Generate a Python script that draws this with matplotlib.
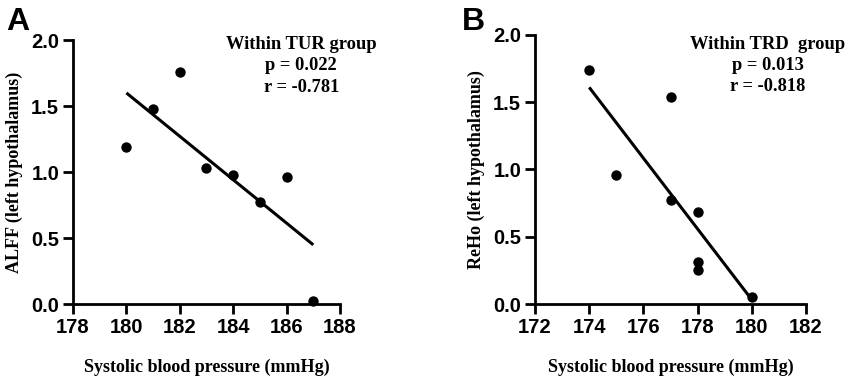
import numpy as np
import matplotlib
matplotlib.use("Agg")
import matplotlib.pyplot as plt

# Panel A data (TUR group)
sbp_a = [180, 181, 182, 183, 184, 185, 186, 187]
alff_a = [1.19, 1.48, 1.76, 1.03, 0.98, 0.77, 0.96, 0.02]
# Panel B data (TRD group)
sbp_b = [174, 175, 177, 177, 178, 178, 178, 180]
reho_b = [1.74, 0.96, 1.54, 0.77, 0.68, 0.31, 0.25, 0.05]

xticks_a = [178, 180, 182, 184, 186, 188]
xticks_b = [172, 174, 176, 178, 180, 182]
yticks = [0.0, 0.5, 1.0, 1.5, 2.0]

serif = ["Liberation Serif", "DejaVu Serif"]
sans = ["Liberation Sans", "DejaVu Sans"]

fig = plt.figure(figsize=(8.51, 3.84), dpi=100)

def panel(rect, x, y, xticks, xlim, ylabel, title_lines, letter, letter_pos, text_pos):
    ax = fig.add_axes(rect)
    ax.scatter(x, y, s=56, color="black", zorder=3, clip_on=False, linewidths=0)
    k, b = np.polyfit(x, y, 1)
    xs = np.array([min(x), max(x)])
    ax.plot(xs, k * xs + b, color="black", lw=2.2, solid_capstyle="butt")
    ax.set_xlim(*xlim)
    ax.set_ylim(0, 2)
    ax.set_xticks(xticks)
    ax.set_yticks(yticks)
    ax.set_yticklabels([f"{t:.1f}" for t in yticks])
    for s in ["top", "right"]:
        ax.spines[s].set_visible(False)
    for s in ["left", "bottom"]:
        ax.spines[s].set_linewidth(2.0)
    ax.tick_params(width=2.0, length=7, direction="out", labelsize=14.5, pad=3)
    for lab in ax.get_xticklabels() + ax.get_yticklabels():
        lab.set_fontfamily(sans)
        lab.set_fontweight("bold")
    ax.set_xlabel("Systolic blood pressure (mmHg)", fontfamily=serif,
                  fontweight="bold", fontsize=13, labelpad=16)
    ax.set_ylabel(ylabel, fontfamily=serif, fontweight="bold", fontsize=13, labelpad=6)
    ax.text(text_pos[0], text_pos[1], "\n".join(title_lines), transform=ax.transAxes,
            ha="center", va="top", fontfamily=serif, fontweight="bold",
            fontsize=13.3, linespacing=1.33)
    fig.text(letter_pos[0], letter_pos[1], letter, fontfamily=sans, fontweight="bold",
             fontsize=23, ha="left", va="baseline")
    return ax

panel([0.0858, 0.2083, 0.3137, 0.6875], sbp_a, alff_a, xticks_a, (178, 188),
      "ALFF (left hypothalamus)",
      ["Within TUR group", "p = 0.022", "r = -0.781"], "A", (0.007, 0.922), (0.855, 1.015))
panel([0.6287, 0.2083, 0.3184, 0.7014], sbp_b, reho_b, xticks_b, (172, 182),
      "ReHo (left hypothalamus)",
      ["Within TRD  group", "p = 0.013", "r = -0.818"], "B", (0.543, 0.922), (0.86, 0.996))

fig.savefig("out.png", dpi=100)
